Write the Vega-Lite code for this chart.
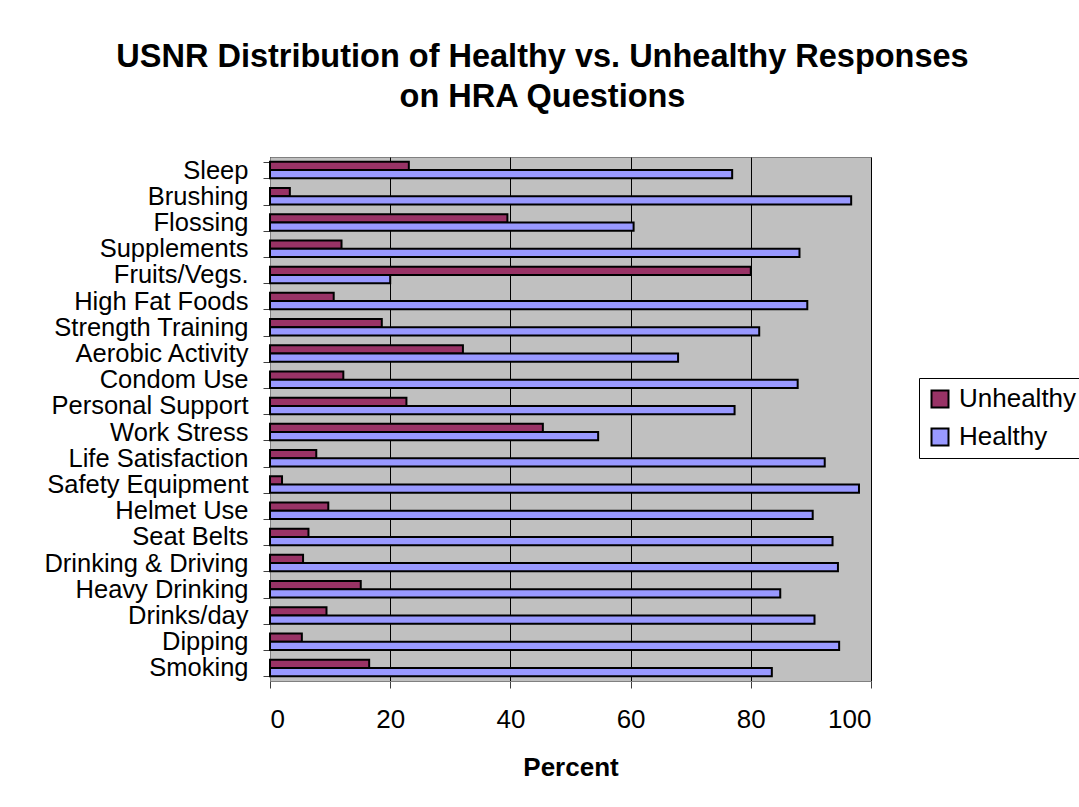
{
  "$schema": "https://vega.github.io/schema/vega-lite/v6.json",
  "width": 601,
  "height": 524,
  "autosize": {"type": "none"},
  "padding": {"left": 270, "top": 157, "right": 208, "bottom": 126},
  "background": "white",
  "title": {
    "text": ["USNR Distribution of Healthy vs. Unhealthy Responses", "on HRA Questions"],
    "font": "Liberation Sans",
    "fontSize": 32.5,
    "fontWeight": "bold",
    "lineHeight": 40,
    "color": "black",
    "anchor": "middle",
    "dx": -28,
    "offset": 32
  },
  "data": {
    "values": [
      {"question": "Sleep", "response": "Unhealthy", "percent": 23.1},
      {"question": "Sleep", "response": "Healthy", "percent": 76.9},
      {"question": "Brushing", "response": "Unhealthy", "percent": 3.3},
      {"question": "Brushing", "response": "Healthy", "percent": 96.7},
      {"question": "Flossing", "response": "Unhealthy", "percent": 39.5},
      {"question": "Flossing", "response": "Healthy", "percent": 60.5},
      {"question": "Supplements", "response": "Unhealthy", "percent": 11.9},
      {"question": "Supplements", "response": "Healthy", "percent": 88.1},
      {"question": "Fruits/Vegs.", "response": "Unhealthy", "percent": 80.0},
      {"question": "Fruits/Vegs.", "response": "Healthy", "percent": 20.0},
      {"question": "High Fat Foods", "response": "Unhealthy", "percent": 10.6},
      {"question": "High Fat Foods", "response": "Healthy", "percent": 89.4},
      {"question": "Strength Training", "response": "Unhealthy", "percent": 18.6},
      {"question": "Strength Training", "response": "Healthy", "percent": 81.4},
      {"question": "Aerobic Activity", "response": "Unhealthy", "percent": 32.1},
      {"question": "Aerobic Activity", "response": "Healthy", "percent": 67.9},
      {"question": "Condom Use", "response": "Unhealthy", "percent": 12.2},
      {"question": "Condom Use", "response": "Healthy", "percent": 87.8},
      {"question": "Personal Support", "response": "Unhealthy", "percent": 22.7},
      {"question": "Personal Support", "response": "Healthy", "percent": 77.3},
      {"question": "Work Stress", "response": "Unhealthy", "percent": 45.4},
      {"question": "Work Stress", "response": "Healthy", "percent": 54.6},
      {"question": "Life Satisfaction", "response": "Unhealthy", "percent": 7.7},
      {"question": "Life Satisfaction", "response": "Healthy", "percent": 92.3},
      {"question": "Safety Equipment", "response": "Unhealthy", "percent": 2.0},
      {"question": "Safety Equipment", "response": "Healthy", "percent": 98.0},
      {"question": "Helmet Use", "response": "Unhealthy", "percent": 9.7},
      {"question": "Helmet Use", "response": "Healthy", "percent": 90.3},
      {"question": "Seat Belts", "response": "Unhealthy", "percent": 6.4},
      {"question": "Seat Belts", "response": "Healthy", "percent": 93.6},
      {"question": "Drinking & Driving", "response": "Unhealthy", "percent": 5.5},
      {"question": "Drinking & Driving", "response": "Healthy", "percent": 94.5},
      {"question": "Heavy Drinking", "response": "Unhealthy", "percent": 15.1},
      {"question": "Heavy Drinking", "response": "Healthy", "percent": 84.9},
      {"question": "Drinks/day", "response": "Unhealthy", "percent": 9.4},
      {"question": "Drinks/day", "response": "Healthy", "percent": 90.6},
      {"question": "Dipping", "response": "Unhealthy", "percent": 5.3},
      {"question": "Dipping", "response": "Healthy", "percent": 94.7},
      {"question": "Smoking", "response": "Unhealthy", "percent": 16.5},
      {"question": "Smoking", "response": "Healthy", "percent": 83.5}
    ]
  },
  "mark": {"type": "bar", "stroke": "black", "strokeWidth": 2},
  "encoding": {
    "y": {
      "field": "question",
      "type": "nominal",
      "sort": null,
      "scale": {"paddingInner": 0.37, "paddingOuter": 0.185},
      "axis": {
        "title": null,
        "tickBand": "extent",
        "tickSize": 7,
        "tickColor": "#404040",
        "domainColor": "#808080",
        "labelFont": "Liberation Sans",
        "labelFontSize": 25.5,
        "labelLimit": 320,
        "labelColor": "black",
        "labelPadding": 15,
        "grid": false
      }
    },
    "yOffset": {
      "field": "response",
      "type": "nominal",
      "sort": ["Unhealthy", "Healthy"]
    },
    "x": {
      "field": "percent",
      "type": "quantitative",
      "scale": {"domain": [0, 100], "nice": false},
      "axis": {
        "title": "Percent",
        "titleFont": "Liberation Sans",
        "titleFontSize": 26,
        "titleFontWeight": "bold",
        "titleColor": "black",
        "titlePadding": 22,
        "values": [0, 20, 40, 60, 80, 100],
        "grid": true,
        "gridColor": "black",
        "gridWidth": 1,
        "tickSize": 7,
        "tickColor": "#404040",
        "domainColor": "#808080",
        "labelFont": "Liberation Sans",
        "labelFontSize": 26,
        "labelColor": "black",
        "labelPadding": 18
      }
    },
    "color": {
      "field": "response",
      "type": "nominal",
      "sort": ["Unhealthy", "Healthy"],
      "scale": {"domain": ["Unhealthy", "Healthy"], "range": ["#993366", "#9999FF"]},
      "legend": {
        "title": null,
        "orient": "none",
        "legendX": 649,
        "legendY": 221,
        "strokeColor": "black",
        "fillColor": "white",
        "padding": 8,
        "symbolType": "square",
        "symbolSize": 289,
        "symbolStrokeColor": "black",
        "symbolStrokeWidth": 2,
        "symbolOpacity": 1,
        "labelFont": "Liberation Sans",
        "labelFontSize": 26,
        "labelColor": "black",
        "labelOffset": 6,
        "rowPadding": 12
      }
    }
  },
  "config": {
    "view": {"fill": "#C0C0C0", "stroke": "#808080", "strokeWidth": 1}
  }
}
